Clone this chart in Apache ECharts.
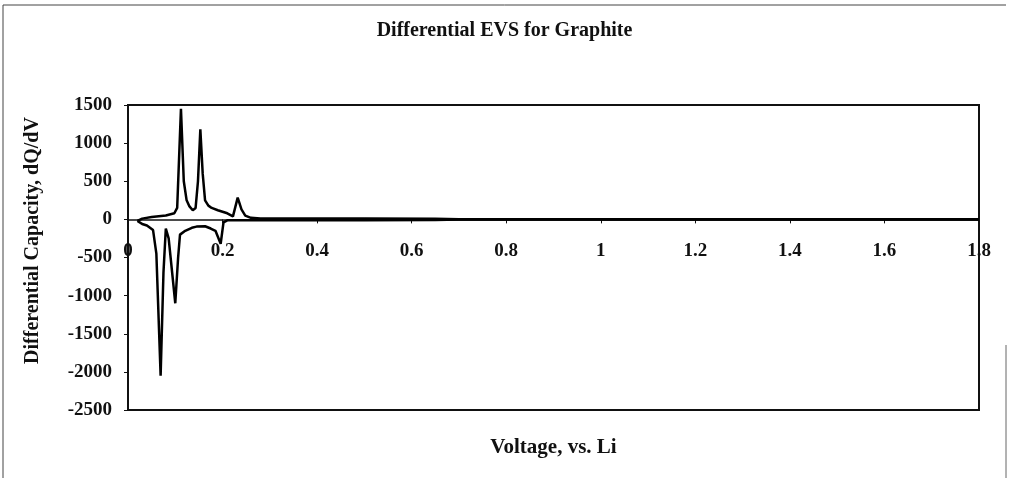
<!DOCTYPE html>
<html>
<head>
<meta charset="utf-8">
<script src="https://cdn.jsdelivr.net/npm/echarts@6/dist/echarts.min.js"></script>
<style>html,body{margin:0;padding:0;background:#fff}#c{width:1009px;height:478px}</style>
</head>
<body>
<div id="c"></div>
<script>
// Charge (positive) branch: [voltage, dQ/dV]
var chargeVoltage = [0.02, 0.03, 0.05, 0.08, 0.098, 0.104, 0.112, 0.118, 0.124, 0.130, 0.137, 0.143, 0.148, 0.153, 0.158, 0.163, 0.170, 0.177, 0.190, 0.200, 0.210, 0.222, 0.232, 0.240, 0.248, 0.260, 0.280, 0.40, 0.50, 0.65, 0.70, 1.0, 1.4, 1.8];
var chargeValues  = [-20, 10, 30, 50, 80, 150, 1450, 500, 250, 170, 120, 150, 500, 1180, 600, 250, 180, 150, 120, 100, 80, 40, 285, 130, 50, 20, 12, 12, 10, 8, 3, 2, 2, 2];
// Discharge (negative) branch
var dischargeVoltage = [0.02, 0.03, 0.04, 0.053, 0.060, 0.069, 0.075, 0.080, 0.086, 0.100, 0.106, 0.110, 0.121, 0.135, 0.145, 0.163, 0.175, 0.185, 0.196, 0.202, 0.210, 0.30, 0.50, 0.65, 0.70, 1.0, 1.4, 1.8];
var dischargeValues  = [-20, -60, -80, -140, -450, -2050, -700, -120, -250, -1100, -500, -200, -150, -110, -95, -90, -120, -150, -320, -40, -12, -10, -10, -8, -3, -2, -2, -2];
var xTicks = [0, 0.2, 0.4, 0.6, 0.8, 1, 1.2, 1.4, 1.6, 1.8];
var yTicks = [-2500, -2000, -1500, -1000, -500, 0, 500, 1000, 1500];

function pairs(xs, ys){ return xs.map(function(x,i){ return [x, ys[i]]; }); }

var W = 1009, H = 478;
var gridTop = 105, gridBottom = 68;
var gridH = H - gridTop - gridBottom;
var yMin = yTicks[0], yMax = yTicks[yTicks.length-1];
// shift the x axis up from the grid bottom to the value 0 of the y axis
var zeroOffset = -gridH * (0 - yMin) / (yMax - yMin);

var font = '"Liberation Serif", "Times New Roman", serif';
var chart = echarts.init(document.getElementById('c'));
chart.setOption({
  animation: false,
  backgroundColor: '#fff',
  title: {
    text: 'Differential EVS for Graphite',
    left: 'center', top: 16,
    textStyle: { fontFamily: font, fontWeight: 'bold', fontSize: 20, color: '#111' }
  },
  graphic: [
    { type: 'polyline', shape: { points: [[3,478],[3,5],[1006,5]] }, style: { stroke: '#444', lineWidth: 1, fill: null } },
    { type: 'line', shape: { x1: 1006, y1: 345, x2: 1006, y2: 478 }, style: { stroke: '#666', lineWidth: 1 } }
  ],
  grid: { left: 128, right: 30, top: gridTop, bottom: gridBottom, containLabel: false, outerBoundsMode: 'none',
    show: true, borderColor: '#111', borderWidth: 2, backgroundColor: 'transparent' },
  xAxis: {
    type: 'value', min: xTicks[0], max: xTicks[xTicks.length-1], interval: 0.2,
    position: 'bottom', offset: zeroOffset,
    name: 'Voltage, vs. Li', nameLocation: 'middle', nameGap: 218,
    nameTextStyle: { fontFamily: font, fontWeight: 'bold', fontSize: 21, color: '#111' },
    axisLine: { onZero: false, lineStyle: { color: '#111', width: 1.5 } },
    axisTick: { show: true, length: 4, lineStyle: { color: '#111' } },
    axisLabel: { fontFamily: font, fontWeight: 'bold', fontSize: 19, color: '#111', margin: 22,
      formatter: function(v){ return String(Math.round(v*10)/10); } },
    splitLine: { show: false }
  },
  yAxis: {
    type: 'value', min: yMin, max: yMax, interval: 500,
    name: 'Differential Capacity, dQ/dV', nameLocation: 'middle', nameGap: 85,
    nameTextStyle: { fontFamily: font, fontWeight: 'bold', fontSize: 20, color: '#111', padding: [0, 0, 0, 34] },
    axisLine: { show: true, lineStyle: { color: '#111', width: 2 } },
    axisTick: { show: true, length: 4, lineStyle: { color: '#111' } },
    axisLabel: { fontFamily: font, fontWeight: 'bold', fontSize: 19, color: '#111', margin: 16,
      showMinLabel: true, showMaxLabel: true, hideOverlap: false,
      formatter: function(v){ return String(v); } },
    splitLine: { show: false }
  },
  series: [
    { type: 'line', data: pairs(chargeVoltage, chargeValues), showSymbol: false, smooth: false,
      lineStyle: { color: '#000', width: 2.5 }, z: 3 },
    { type: 'line', data: pairs(dischargeVoltage, dischargeValues), showSymbol: false, smooth: false,
      lineStyle: { color: '#000', width: 2.5 }, z: 3 }
  ]
});
</script>
</body>
</html>
